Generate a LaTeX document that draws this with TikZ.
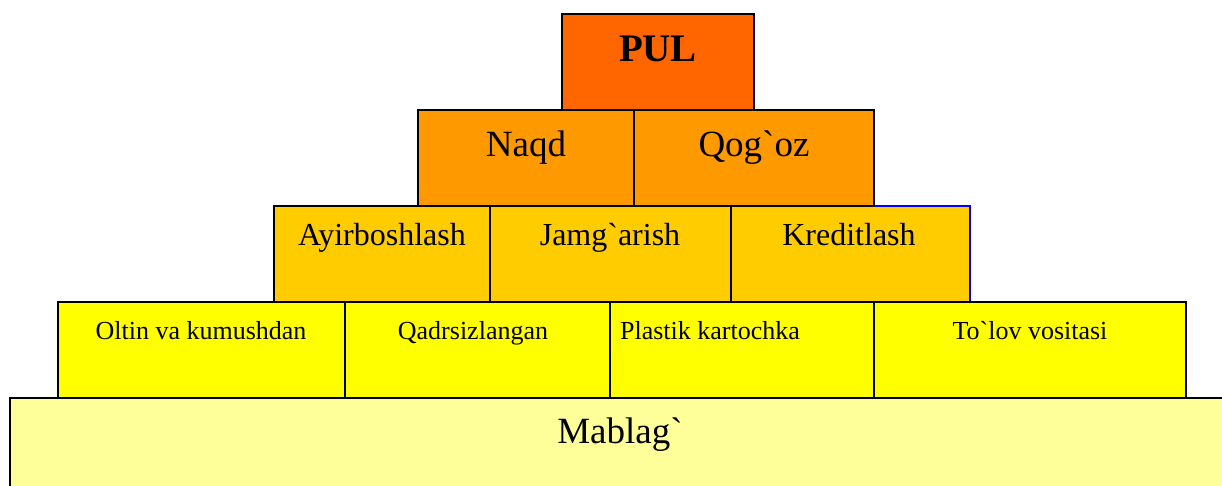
\documentclass[tikz,border=0pt]{standalone}
\usepackage{fontspec}
\setmainfont{Liberation Serif}[Ligatures=TeXOff]
\definecolor{pulc}{HTML}{FF6600}
\definecolor{rowtwo}{HTML}{FF9900}
\definecolor{rowthree}{HTML}{FFCC00}
\definecolor{rowfour}{HTML}{FFFF00}
\definecolor{basec}{HTML}{FFFF99}
\tikzset{
  brick/.style={draw=black, line width=1.5pt, rectangle, inner sep=0pt, outer sep=0pt,
                anchor=north west, minimum height=96pt},
  lbl/.style={anchor=base, inner sep=0pt},
}
\begin{document}
\begin{tikzpicture}[x=1pt, y=-1pt]
\useasboundingbox (0,0) rectangle (1222,486);
\clip (0,0) rectangle (1222,486);

% third row, right brick (blue outline) goes first so neighbours cover its shared edges
\node[brick, draw=blue, fill=rowthree, minimum width=239pt] (kred) at (731,206) {};

% base
\node[brick, fill=basec, minimum width=1240pt, minimum height=110pt] (mab) at (10,398) {};

% fourth row
\node[brick, fill=rowfour, minimum width=287pt] (olt) at (58,302) {};
\node[brick, fill=rowfour, minimum width=265pt] (qad) at (345,302) {};
\node[brick, fill=rowfour, minimum width=264pt] (pla) at (610,302) {};
\node[brick, fill=rowfour, minimum width=312pt] (tol) at (874,302) {};

% third row
\node[brick, fill=rowthree, minimum width=216pt] (ayi) at (274,206) {};
\node[brick, fill=rowthree, minimum width=241pt] (jam) at (490,206) {};

% second row
\node[brick, fill=rowtwo, minimum width=216pt] (naq) at (418,110) {};
\node[brick, fill=rowtwo, minimum width=240pt] (qog) at (634,110) {};

% top
\node[brick, fill=pulc, minimum width=192pt] (pul) at (562,14) {};

% labels
\node[lbl, font=\fontsize{39}{42}\selectfont\bfseries] (pult) at (658,62) {PUL};
\node[lbl, font=\fontsize{37}{40}\selectfont] (naqt) at (526,157) {Naqd};
\node[lbl, font=\fontsize{37}{40}\selectfont] (qogt) at (754,157) {Qog`oz};
\node[lbl, font=\fontsize{32}{35}\selectfont] (ayit) at (382,246) {Ayirboshlash};
\node[lbl, font=\fontsize{32}{35}\selectfont] (jamt) at (610,246) {Jamg`arish};
\node[lbl, font=\fontsize{32}{35}\selectfont] (kredt) at (849,246) {Kreditlash};
\node[lbl, font=\fontsize{26}{29}\selectfont] (oltt) at (201,339) {Oltin va kumushdan};
\node[lbl, font=\fontsize{26}{29}\selectfont] (qadt) at (473,339) {Qadrsizlangan};
\node[lbl, font=\fontsize{26}{29}\selectfont] (plat) at (710,339) {Plastik kartochka};
\node[lbl, font=\fontsize{26}{29}\selectfont] (tolt) at (1030,339) {To`lov vositasi};
\node[lbl, font=\fontsize{37}{40}\selectfont] (mabt) at (620,443) {Mablag`};
\end{tikzpicture}
\end{document}
